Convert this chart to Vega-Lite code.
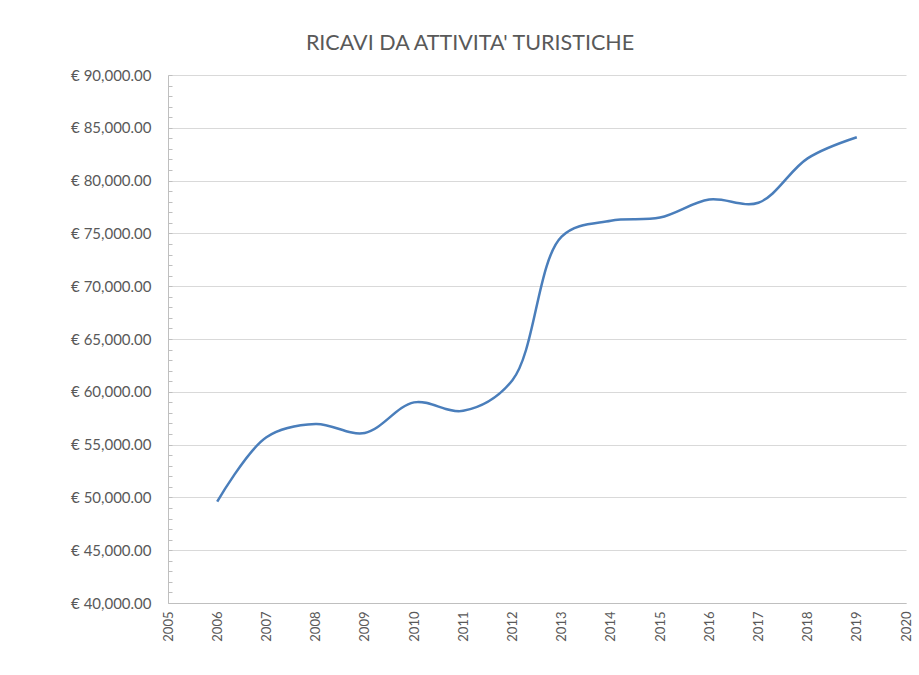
{
  "$schema": "https://vega.github.io/schema/vega-lite/v6.json",
  "width": 738,
  "height": 528,
  "autosize": {"type": "none"},
  "padding": {"left": 168, "top": 75, "right": 13, "bottom": 72},
  "background": "white",
  "title": {
    "text": "RICAVI DA ATTIVITA' TURISTICHE",
    "font": "Lato",
    "fontSize": 21.5,
    "fontWeight": "normal",
    "color": "#595959",
    "offset": 14,
    "dx": -67
  },
  "config": {"view": {"stroke": null}},
  "data": {
    "values": [
      {"year": 2006, "ricavi": 49600},
      {"year": 2007, "ricavi": 55700},
      {"year": 2008, "ricavi": 56950},
      {"year": 2009, "ricavi": 56100},
      {"year": 2010, "ricavi": 59000},
      {"year": 2011, "ricavi": 58200},
      {"year": 2012, "ricavi": 61100},
      {"year": 2013, "ricavi": 74700},
      {"year": 2014, "ricavi": 76200},
      {"year": 2015, "ricavi": 76500},
      {"year": 2016, "ricavi": 78200},
      {"year": 2017, "ricavi": 77900},
      {"year": 2018, "ricavi": 82100},
      {"year": 2019, "ricavi": 84100}
    ]
  },
  "mark": {"type": "line", "interpolate": "catmull-rom", "color": "#4a7ebb", "strokeWidth": 2.5},
  "encoding": {
    "x": {
      "field": "year",
      "type": "quantitative",
      "scale": {"domain": [2005, 2020], "nice": false, "zero": false},
      "axis": {
        "title": null,
        "values": [2005, 2006, 2007, 2008, 2009, 2010, 2011, 2012, 2013, 2014, 2015, 2016, 2017, 2018, 2019, 2020],
        "format": "d",
        "labelAngle": -90,
        "labelFont": "Lato",
        "labelFontSize": 13,
        "labelColor": "#595959",
        "labelPadding": 8,
        "ticks": false,
        "grid": false,
        "domainColor": "#bfbfbf",
        "labelOverlap": false,
        "labelFlush": false
      }
    },
    "y": {
      "field": "ricavi",
      "type": "quantitative",
      "scale": {"domain": [40000, 90000], "nice": false, "zero": false},
      "axis": {
        "title": null,
        "values": [40000, 41000, 42000, 43000, 44000, 45000, 46000, 47000, 48000, 49000, 50000, 51000, 52000, 53000, 54000, 55000, 56000, 57000, 58000, 59000, 60000, 61000, 62000, 63000, 64000, 65000, 66000, 67000, 68000, 69000, 70000, 71000, 72000, 73000, 74000, 75000, 76000, 77000, 78000, 79000, 80000, 81000, 82000, 83000, 84000, 85000, 86000, 87000, 88000, 89000, 90000],
        "labelExpr": "datum.value % 5000 == 0 ? '€ ' + format(datum.value, ',.2f') : ''",
        "labelOverlap": false,
        "labelFont": "Lato",
        "labelFontSize": 15,
        "labelColor": "#595959",
        "labelPadding": 21,
        "tickSize": -4,
        "tickColor": "#bfbfbf",
        "domainColor": "#bfbfbf",
        "gridColor": "#d9d9d9",
        "gridOpacity": {"condition": {"test": "datum.value % 5000 == 0", "value": 1}, "value": 0}
      }
    }
  }
}
